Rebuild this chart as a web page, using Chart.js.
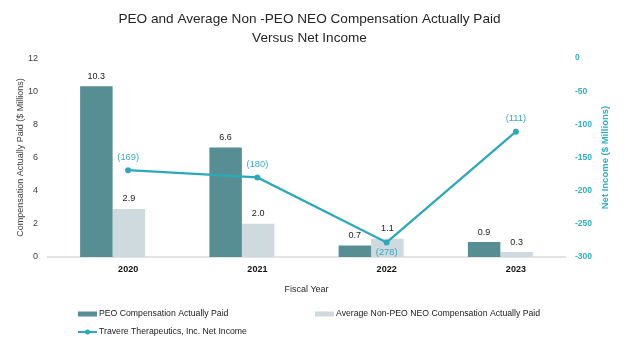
<!DOCTYPE html>
<html>
<head>
<meta charset="utf-8">
<script src="https://cdn.jsdelivr.net/npm/chart.js@4.4.1/dist/chart.umd.min.js"></script>
<style>
  html, body { margin: 0; padding: 0; background: #ffffff; }
  #wrap { width: 624px; height: 347px; position: relative; }
</style>
</head>
<body>
<div id="wrap"><canvas id="c" width="624" height="347"></canvas></div>
<script>
const years = ['2020', '2021', '2022', '2023'];
const peoCap = [10.3, 6.6, 0.7, 0.9];
const nonPeoCap = [2.9, 2.0, 1.1, 0.3];
const netIncome = [-169, -180, -278, -111];
const leftTicks = [0, 2, 4, 6, 8, 10, 12];
const rightTicks = [-300, -250, -200, -150, -100, -50, 0];

const FONT = "'Liberation Sans', Arial, sans-serif";
const C_PEO = '#578e94';
const C_NON = '#cedadd';
const C_LINE = '#2aa9bb';
const C_LINE_LBL = '#3aaac1';
const C_RIGHT = '#2eafc4';

const labelPlugin = {
  id: 'valueLabels',
  afterDatasetsDraw(chart) {
    const ctx = chart.ctx;
    ctx.save();
    chart.data.datasets.forEach((ds, di) => {
      const meta = chart.getDatasetMeta(di);
      meta.data.forEach((el, i) => {
        if (ds.type === 'line') {
          const v = netIncome[i];
          const txt = '(' + Math.abs(v) + ')';
          ctx.font = '9.3px ' + FONT;
          ctx.fillStyle = C_LINE_LBL;
          ctx.textAlign = 'center';
          ctx.textBaseline = 'middle';
          const below = i === 2;
          ctx.fillText(txt, el.x, below ? el.y + 10 : el.y - 13);
        } else {
          const v = ds.data[i];
          ctx.font = '9px ' + FONT;
          ctx.fillStyle = '#1a1a1a';
          ctx.textAlign = 'center';
          ctx.textBaseline = 'middle';
          ctx.fillText(v.toFixed(1), el.x, el.y - 10);
        }
      });
    });
    ctx.restore();
  },
  afterDraw(chart) {
    const ctx = chart.ctx;
    const ca = chart.chartArea;
    ctx.save();
    ctx.translate(605, (ca.top + ca.bottom) / 2);
    ctx.rotate(-Math.PI / 2);
    ctx.font = 'bold 9.5px ' + FONT;
    ctx.fillStyle = C_RIGHT;
    ctx.textAlign = 'center';
    ctx.textBaseline = 'middle';
    ctx.fillText('Net Income ($ Millions)', 0, 0);
    ctx.restore();

    const ds = chart.data.datasets;
    const items = [
      { d: ds[1], x: 78, y: 314 },
      { d: ds[2], x: 315, y: 314 },
      { d: ds[0], x: 78, y: 332 }
    ];
    ctx.save();
    items.forEach(it => {
      const d = it.d;
      if (d.type === 'line') {
        ctx.strokeStyle = d.borderColor;
        ctx.lineWidth = 2;
        ctx.beginPath();
        ctx.moveTo(it.x, it.y);
        ctx.lineTo(it.x + 19, it.y);
        ctx.stroke();
        ctx.fillStyle = d.borderColor;
        ctx.beginPath();
        ctx.arc(it.x + 9.5, it.y, 2.5, 0, Math.PI * 2);
        ctx.fill();
      } else {
        ctx.fillStyle = d.backgroundColor;
        ctx.fillRect(it.x, it.y - 2.5, 19, 5);
      }
      ctx.font = '8.7px ' + FONT;
      ctx.fillStyle = '#1a1a1a';
      ctx.textAlign = 'left';
      ctx.textBaseline = 'middle';
      ctx.fillText(d.label, it.x + 21, it.y);
    });
    ctx.restore();
  }
};

new Chart(document.getElementById('c'), {
  type: 'bar',
  data: {
    labels: years,
    datasets: [
      {
        type: 'line',
        label: 'Travere Therapeutics, Inc. Net Income',
        data: netIncome.map((v, i) => ({ x: i, y: v })),
        xAxisID: 'x2',
        yAxisID: 'y1',
        borderColor: C_LINE,
        backgroundColor: C_LINE,
        borderWidth: 2.2,
        pointRadius: 3,
        pointBackgroundColor: C_LINE,
        pointBorderWidth: 0,
        tension: 0,
        order: 0
      },
      {
        label: 'PEO Compensation Actually Paid',
        data: peoCap,
        backgroundColor: C_PEO,
        xAxisID: 'x',
        yAxisID: 'y',
        order: 1,
        barPercentage: 1.0,
        categoryPercentage: 1.006
      },
      {
        label: 'Average Non-PEO NEO Compensation Actually Paid',
        data: nonPeoCap,
        backgroundColor: C_NON,
        xAxisID: 'x',
        yAxisID: 'y',
        order: 1,
        barPercentage: 1.0,
        categoryPercentage: 1.006
      }
    ]
  },
  options: {
    responsive: false,
    animation: false,
    devicePixelRatio: 1,
    layout: { padding: { left: 0, right: 5, top: 0, bottom: 50 } },
    plugins: {
      legend: { display: false },
      tooltip: { enabled: false },
      title: {
        display: true,
        text: ['PEO and Average Non -PEO NEO Compensation Actually Paid', 'Versus Net Income'],
        font: { family: FONT, size: 13.6, weight: 'normal', lineHeight: 1.4 },
        color: '#262626',
        padding: { top: 10, bottom: 10 }
      }
    },
    scales: {
      x: {
        type: 'category',
        position: 'bottom',
        weight: 0,
        offset: true,
        grid: { display: false, drawTicks: false },
        border: { display: false },
        ticks: { display: false },
        afterFit(s) { s.height = 0; }
      },
      x2: {
        type: 'linear',
        position: 'bottom',
        offset: false,
        min: -0.62,
        max: 3.38,
        weight: 1,
        grid: { display: false, drawTicks: false, offset: false },
        border: { display: true, color: '#e3e3e3', width: 2 },
        afterBuildTicks(s) { s.ticks = years.map((_, i) => ({ value: i })); },
        afterFit(s) { s.height = 40; },
        ticks: {
          autoSkip: false,
          maxRotation: 0,
          padding: 7,
          color: '#111',
          font: { family: FONT, size: 9, weight: 'bold' },
          callback: (v) => years[v]
        },
        title: {
          display: true,
          text: 'Fiscal Year',
          color: '#262626',
          font: { family: FONT, size: 9 },
          padding: { top: 2, bottom: 2 }
        }
      },
      y: {
        type: 'linear',
        position: 'left',
        min: 0,
        max: 12,
        grid: { display: false, drawTicks: false },
        border: { display: false },
        afterFit(s) { s.width = 48; },
        afterBuildTicks(s) { s.ticks = leftTicks.map(v => ({ value: v })); },
        ticks: {
          padding: 10,
          color: '#404040',
          font: { family: FONT, size: 9 }
        },
        title: {
          display: true,
          text: 'Compensation Actually Paid ($ Millions)',
          color: '#404040',
          font: { family: FONT, size: 9 },
          padding: { top: 15, bottom: 0 }
        }
      },
      y1: {
        type: 'linear',
        position: 'right',
        min: -300,
        max: 0,
        grid: { display: false, drawTicks: false },
        border: { display: false },
        afterFit(s) { s.width = 54; },
        afterBuildTicks(s) { s.ticks = rightTicks.map(v => ({ value: v })); },
        ticks: {
          padding: 10,
          color: C_RIGHT,
          font: { family: FONT, size: 8.5, weight: 'bold' }
        }
      }
    }
  },
  plugins: [labelPlugin]
});
</script>
</body>
</html>
